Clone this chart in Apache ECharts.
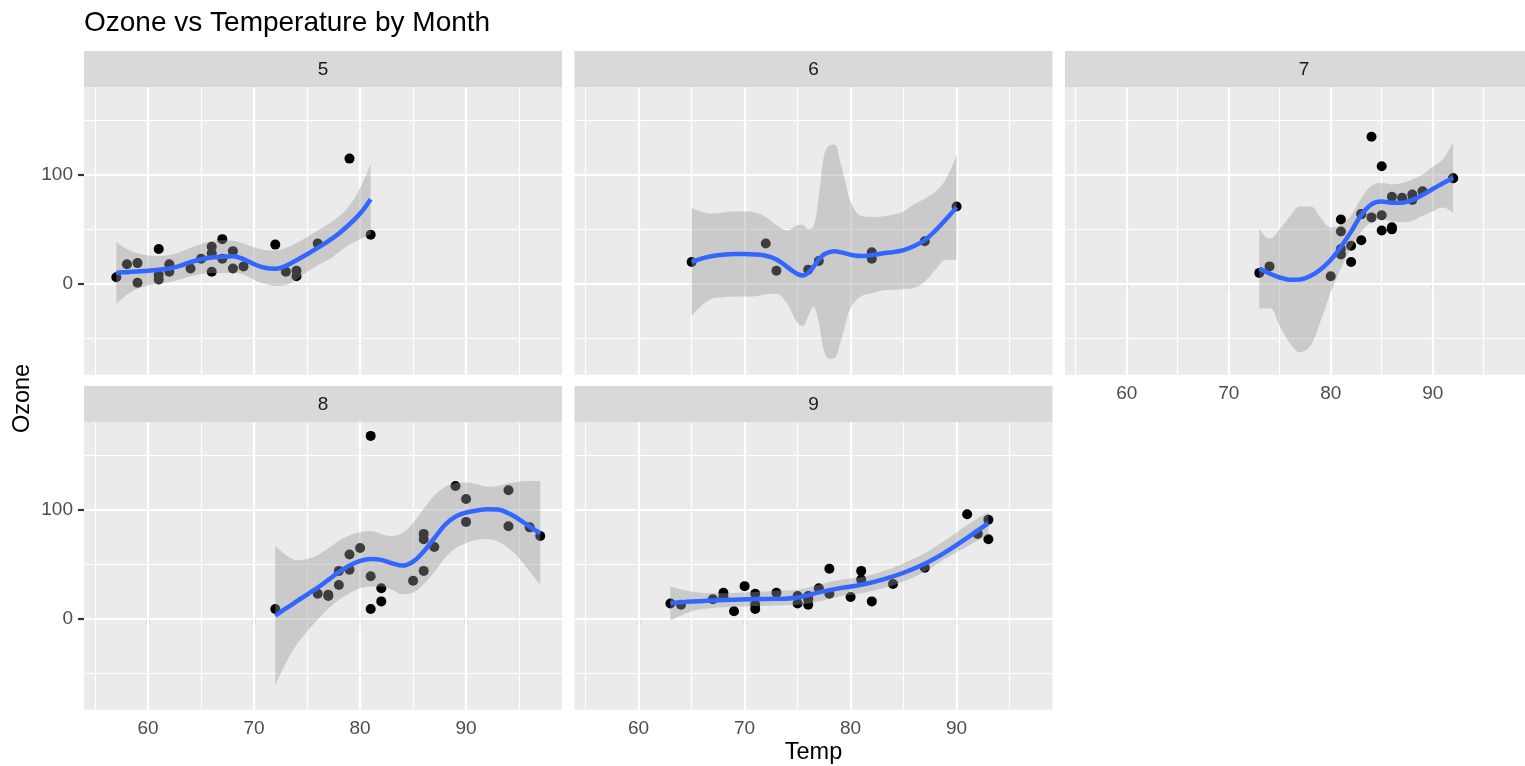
<!DOCTYPE html>
<html>
<head>
<meta charset="utf-8">
<title>Ozone vs Temperature by Month</title>
<script src="https://cdn.jsdelivr.net/npm/echarts@6/dist/echarts.min.js"></script>
<style>
    html, body { margin: 0; padding: 0; background: #fff; }
    #main { width: 1525px; height: 766px; }
</style>
</head>
<body>
<div id="main"></div>
<script>
// facet names (Month)
var months = ['5', '6', '7', '8', '9'];

// points: Temp / Ozone for each month
var tempMay  = [67, 72, 74, 62, 66, 65, 59, 61, 74, 69, 66, 68, 58, 64, 66, 57, 68, 62, 59, 73, 61, 61, 67, 81, 79, 76];
var ozoneMay = [41, 36, 12, 18, 28, 23, 19, 8, 7, 16, 11, 14, 18, 14, 34, 6, 30, 11, 1, 11, 4, 32, 23, 45, 115, 37];
var tempJun  = [82, 90, 87, 82, 77, 72, 65, 73, 76];
var ozoneJun = [29, 71, 39, 23, 21, 37, 20, 12, 13];
var tempJul  = [84, 85, 81, 83, 83, 88, 92, 92, 89, 73, 81, 80, 81, 82, 84, 87, 85, 74, 86, 85, 82, 86, 88, 86, 83, 81];
var ozoneJul = [135, 49, 32, 64, 40, 77, 97, 97, 85, 10, 27, 7, 48, 35, 61, 79, 63, 16, 80, 108, 20, 52, 82, 50, 64, 59];
var tempAug  = [81, 81, 82, 86, 85, 87, 89, 90, 90, 86, 82, 80, 77, 79, 76, 78, 78, 77, 72, 79, 81, 86, 97, 94, 96, 94];
var ozoneAug = [39, 9, 16, 78, 35, 66, 122, 89, 110, 44, 28, 65, 22, 59, 23, 31, 44, 21, 9, 45, 168, 73, 76, 118, 84, 85];
var tempSep  = [91, 92, 93, 93, 87, 84, 80, 78, 75, 73, 81, 76, 77, 71, 71, 78, 67, 76, 68, 82, 64, 71, 81, 69, 63, 70, 75, 76, 68];
var ozoneSep = [96, 78, 73, 91, 47, 32, 20, 23, 21, 24, 44, 21, 28, 9, 13, 46, 18, 13, 24, 16, 13, 23, 36, 7, 14, 30, 14, 18, 20];

// smooth curve and its band
var fitXMay = [57, 58, 59, 60, 61, 62, 63, 64, 65, 66, 67, 68, 69, 70, 71, 72, 73, 74, 75, 76, 77, 78, 79, 80, 81];
var fitMay  = [10.1, 10.7, 11.3, 11.9, 12.8, 14.1, 16.5, 19.9, 22.6, 24.2, 24.8, 25.4, 22.6, 18, 14.7, 13.8, 16.5, 21.7, 27.2, 33, 39.1, 46.2, 54.7, 64.5, 77.7];
var hiMay   = [38.5, 32, 28, 26, 25.5, 26.5, 29, 33, 36.5, 39, 40, 39.5, 37, 33.5, 31, 30.5, 33, 37.5, 43, 49, 55, 62, 72, 88, 110];
var loMay   = [-18.7, -10, -4.5, -1.5, 0, 1.5, 4, 7, 9, 10, 10, 10, 8.5, 3.5, 0, -2, -1, 4, 11, 17, 22, 29, 36, 41, 45.5];

var fitXJun = [65, 66, 67, 68, 69, 70, 71, 72, 73, 74, 74.5, 75, 75.5, 76, 76.5, 77, 77.5, 78, 78.5, 79, 79.5, 80, 81, 82, 83, 84, 85, 86, 87, 88, 89, 90];
var fitJun  = [20.2, 23.3, 25.5, 26.7, 27.3, 27.3, 27, 25.8, 22.4, 15.6, 12, 8.9, 7.7, 10.1, 15.6, 22.4, 27, 29.1, 29.8, 29.1, 27.9, 26.7, 25.5, 26.4, 27.9, 29.1, 31, 34.7, 40.2, 48.8, 59.2, 70.2];
var hiJun   = [69.9, 66, 64.5, 65.5, 66.3, 66.3, 65.4, 61.1, 53.9, 49, 51, 53.9, 54.3, 50.1, 52.6, 80, 118, 127.1, 127.8, 113.1, 93.9, 75.7, 62.5, 61.4, 61.9, 63.6, 66.7, 73, 78.2, 84.8, 96.2, 118.2];
var loJun   = [-29.5, -19.4, -13.5, -12.3, -11.7, -11.7, -11.4, -9.5, -9.1, -17.8, -27, -36.1, -38.9, -29.9, -21.4, -36, -62, -68.9, -68.2, -54.9, -38.1, -22.3, -11.5, -8.6, -6.1, -5.4, -4.7, -3.6, 2.2, 12.8, 22.2, 22.2];

var fitXJul = [73, 74, 75, 76, 77, 78, 79, 80, 81, 82, 83, 84, 85, 86, 87, 88, 89, 90, 91, 92];
var fitJul  = [14.1, 9.5, 5.8, 3.7, 4.0, 7.1, 13.2, 21.8, 34, 47.9, 63.2, 73, 75.5, 74.5, 74.5, 77, 81.6, 87.1, 92.3, 97.5];
var hiJul   = [50.9, 41.5, 50, 62, 71, 71, 61, 52, 54, 63, 78.5, 90, 92.5, 91.5, 92.5, 96, 100.5, 107.5, 114.5, 130];
var loJul   = [-22.7, -22.5, -38.5, -54.5, -63, -57, -34.5, -8, 14, 33, 48, 56.5, 59, 57.5, 56.5, 58, 62.5, 66.5, 70, 65];

var fitXAug = [72, 73, 74, 75, 76, 77, 78, 79, 80, 81, 82, 83, 84, 85, 86, 87, 88, 89, 90, 91, 92, 93, 94, 95, 96, 97];
var fitAug  = [2.8, 9.5, 15.9, 22.3, 28.7, 35.8, 42.8, 48.9, 53.2, 55, 54.1, 51, 48.9, 52.6, 61.8, 74, 86.2, 93.9, 97.6, 99.4, 100.6, 100.3, 96.9, 91.4, 84.7, 78.6];
var hiAug   = [67.3, 58.7, 54.1, 55, 58.7, 64.8, 71.6, 76.5, 79.5, 80.7, 78, 76, 79, 88, 101, 113, 121, 124.5, 125.1, 123.5, 121.4, 122, 124.5, 126, 126.6, 126.6];
var loAug   = [-61.2, -40.7, -23.9, -11.6, -0.9, 9.2, 17.4, 23.5, 28.1, 29.7, 29.7, 26.6, 22.6, 24, 32, 43, 55.7, 64.8, 69.4, 72.5, 73.4, 70.9, 64.8, 55.7, 43.4, 31.2];

var fitXSep = [63, 65, 67, 69, 71, 73, 75, 77, 79, 81, 83, 85, 87, 89, 91, 93];
var fitSep  = [14.4, 15.9, 16.8, 17.5, 18.1, 18.3, 19.6, 24.3, 28.2, 31.2, 36, 42.3, 50.5, 61.5, 74.4, 87.8];
var hiSep   = [29.7, 25.1, 23.5, 23.8, 24.5, 25.7, 26.6, 31.2, 35.8, 38.2, 43.4, 51.1, 60.2, 72.5, 86.2, 97.9];
var loSep   = [-1.8, 6.7, 9.8, 10.8, 11.7, 12.2, 12.8, 15.9, 20.5, 23.5, 28.1, 34.3, 43.4, 55.7, 66.4, 77.1];

// axis ticks
var xTicks = [60, 70, 80, 90];
var xMinor = [55, 65, 75, 85, 95];
var yTicks = [0, 100];
var yMinor = [-50, 50, 150];

var FONT = '"Liberation Sans", Arial, Helvetica, sans-serif';
var colLeft = [84, 574.5, 1065], rowTop = [87.3, 422.3];
var panelW = 478, panelH = 287.5, stripH = 36.3;

var panels = [
    {temp: tempMay, ozone: ozoneMay, fx: fitXMay, fit: fitMay, hi: hiMay, lo: loMay, col: 0, row: 0, showX: false, showY: true},
    {temp: tempJun, ozone: ozoneJun, fx: fitXJun, fit: fitJun, hi: hiJun, lo: loJun, col: 1, row: 0, showX: false, showY: false},
    {temp: tempJul, ozone: ozoneJul, fx: fitXJul, fit: fitJul, hi: hiJul, lo: loJul, col: 2, row: 0, showX: true, showY: false},
    {temp: tempAug, ozone: ozoneAug, fx: fitXAug, fit: fitAug, hi: hiAug, lo: loAug, col: 0, row: 1, showX: true, showY: true},
    {temp: tempSep, ozone: ozoneSep, fx: fitXSep, fit: fitSep, hi: hiSep, lo: loSep, col: 1, row: 1, showX: true, showY: false}
];

function pairs(xs, ys) {
    var out = [];
    for (var i = 0; i < xs.length; i++) out.push([xs[i], ys[i]]);
    return out;
}

// white grid lines as markLines
var gridLines = [];
xMinor.forEach(function (v) { gridLines.push({xAxis: v, lineStyle: {color: '#fff', width: 1.1, type: 'solid'}}); });
yMinor.forEach(function (v) { gridLines.push({yAxis: v, lineStyle: {color: '#fff', width: 1.1, type: 'solid'}}); });
xTicks.forEach(function (v) { gridLines.push({xAxis: v, lineStyle: {color: '#fff', width: 2.2, type: 'solid'}}); });
yTicks.forEach(function (v) { gridLines.push({yAxis: v, lineStyle: {color: '#fff', width: 2.2, type: 'solid'}}); });

var grids = [], xAxes = [], yAxes = [], series = [], graphics = [];

panels.forEach(function (p, i) {
    var left = colLeft[p.col], top = rowTop[p.row];
    grids.push({
        left: left, top: top, width: panelW, height: panelH,
        show: true, backgroundColor: '#EBEBEB', borderWidth: 0, containLabel: false
    });
    xAxes.push({
        gridIndex: i, type: 'value', min: 53.95, max: 99.05,
        axisLine: {show: false}, splitLine: {show: false},
        axisTick: {show: p.showX, customValues: xTicks, length: 6, lineStyle: {color: '#333333', width: 2.2}},
        axisLabel: {show: p.showX, customValues: xTicks, margin: 9, color: '#4D4D4D', fontSize: 19, fontFamily: FONT}
    });
    yAxes.push({
        gridIndex: i, type: 'value', min: -83.6, max: 180.5,
        axisLine: {show: false}, splitLine: {show: false},
        axisTick: {show: p.showY, customValues: yTicks, length: 6, lineStyle: {color: '#333333', width: 2.2}},
        axisLabel: {show: p.showY, customValues: yTicks, margin: 11, color: '#4D4D4D', fontSize: 19, fontFamily: FONT}
    });

    // points first, band over them, line on top
    series.push({
        type: 'scatter', xAxisIndex: i, yAxisIndex: i, silent: true, z: 2,
        data: pairs(p.temp, p.ozone), symbolSize: 10,
        itemStyle: {color: '#000000', opacity: 1},
        markLine: {
            silent: true, z: 1, symbol: ['none', 'none'], label: {show: false},
            emphasis: {disabled: true}, data: gridLines
        }
    });
    // band = lo + (hi - lo) stacked; ozone column first so that the stack runs on y
    var diff = [];
    for (var k = 0; k < p.hi.length; k++) diff.push(p.hi[k] - p.lo[k]);
    series.push({
        type: 'line', xAxisIndex: i, yAxisIndex: i, silent: true, z: 3,
        stack: 'band' + i, stackStrategy: 'all', smooth: 0.4,
        symbol: 'none', lineStyle: {opacity: 0},
        encode: {x: 1, y: 0},
        data: pairs(p.lo, p.fx)
    });
    series.push({
        type: 'line', xAxisIndex: i, yAxisIndex: i, silent: true, z: 3,
        stack: 'band' + i, stackStrategy: 'all', smooth: 0.4,
        symbol: 'none', lineStyle: {opacity: 0},
        areaStyle: {color: '#999999', opacity: 0.4},
        encode: {x: 1, y: 0},
        data: pairs(diff, p.fx)
    });
    series.push({
        type: 'line', xAxisIndex: i, yAxisIndex: i, silent: true, z: 4,
        smooth: 0.4, symbol: 'none',
        lineStyle: {color: '#3366FF', width: 4.5},
        data: pairs(p.fx, p.fit)
    });

    // strip on top of the panel
    graphics.push({
        type: 'rect', silent: true,
        shape: {x: left, y: top - stripH, width: panelW, height: stripH},
        style: {fill: '#D9D9D9'}
    });
    graphics.push({
        type: 'text', silent: true, x: left + panelW / 2, y: top - stripH + 18.8,
        style: {text: months[i], fill: '#1A1A1A', fontSize: 19, fontFamily: FONT, align: 'center', verticalAlign: 'middle'}
    });
});

graphics.push({
    type: 'text', silent: true, x: 84, y: 23.3,
    style: {text: 'Ozone vs Temperature by Month', fill: '#000000', fontSize: 28, fontFamily: FONT, align: 'left', verticalAlign: 'middle'}
});
graphics.push({
    type: 'text', silent: true, x: 813.5, y: 752.5,
    style: {text: 'Temp', fill: '#000000', fontSize: 23.5, fontFamily: FONT, align: 'center', verticalAlign: 'middle'}
});
graphics.push({
    type: 'text', silent: true, x: 22.5, y: 398.5, rotation: Math.PI / 2,
    style: {text: 'Ozone', fill: '#000000', fontSize: 23.5, fontFamily: FONT, align: 'center', verticalAlign: 'middle'}
});

var chart = echarts.init(document.getElementById('main'));
chart.setOption({
    backgroundColor: '#ffffff',
    animation: false,
    grid: grids,
    xAxis: xAxes,
    yAxis: yAxes,
    series: series,
    graphic: graphics
});
</script>
</body>
</html>
